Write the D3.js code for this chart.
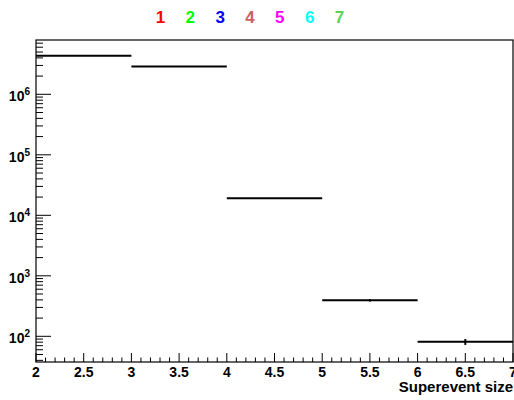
<!DOCTYPE html>
<html>
<head>
<meta charset="utf-8">
<script src="https://cdn.jsdelivr.net/npm/d3@7"></script>
<style>
  body { margin: 0; background: #fff; }
  text { font-family: "Liberation Sans", Arial, sans-serif; font-weight: bold; }
</style>
</head>
<body>
<div id="chart"></div>
<script>
// Datos del histograma
const binLow = [2, 3, 4, 5, 6];
const binHigh = [3, 4, 5, 6, 7];
const counts = [4340000, 2880000, 19200, 394, 81];
const errors = [2083, 1697, 139, 20, 9];

const legendLabels = ["1", "2", "3", "4", "5", "6", "7"];
const legendColors = ["#ff0000", "#00ff00", "#0000ff", "#cf5e61", "#ff00ff", "#00ffff", "#59d454"];

const xTicks = [2, 2.5, 3, 3.5, 4, 4.5, 5, 5.5, 6, 6.5, 7];

const width = 514, height = 400;
const margin = { top: 40, right: 1, bottom: 38, left: 36 };
const x0 = margin.left, x1 = width - margin.right;
const y0 = height - margin.bottom, y1 = margin.top;

const svg = d3.select("#chart")
  .append("svg")
  .attr("width", width)
  .attr("height", height);

const x = d3.scaleLinear().domain([2, 7]).range([x0, x1]);
const y = d3.scaleLog().domain([37.6, 7.9e6]).range([y0, y1]);

// Leyenda de colores
const lx = d3.scalePoint().domain(legendLabels).range([160.5, 339.5]);
svg.append("g")
  .selectAll("text")
  .data(legendLabels)
  .enter().append("text")
  .attr("x", d => lx(d))
  .attr("y", 23)
  .attr("text-anchor", "middle")
  .style("font-size", "17px")
  .attr("fill", (d, i) => legendColors[i])
  .text(d => d);

// Marco
svg.append("rect")
  .attr("x", x0)
  .attr("y", y1)
  .attr("width", x1 - x0)
  .attr("height", y0 - y1)
  .attr("fill", "none")
  .attr("stroke", "#000")
  .attr("stroke-width", 1.2);

// Marcas del eje X
const xMinor = d3.range(20, 71).map(v => v / 10).filter(v => Math.abs(v * 2 - Math.round(v * 2)) > 1e-6);
const xt = svg.append("g").attr("stroke", "#000").attr("stroke-width", 1);
xt.selectAll("line.mi")
  .data(xMinor)
  .enter().append("line")
  .attr("class", "mi")
  .attr("x1", d => x(d)).attr("x2", d => x(d))
  .attr("y1", y0).attr("y2", y0 - 4.5);
xt.selectAll("line.ma")
  .data(xTicks)
  .enter().append("line")
  .attr("class", "ma")
  .attr("x1", d => x(d)).attr("x2", d => x(d))
  .attr("y1", y0).attr("y2", y0 - 9);

svg.append("g")
  .selectAll("text")
  .data(xTicks)
  .enter().append("text")
  .attr("x", d => x(d))
  .attr("y", 376.5)
  .attr("text-anchor", "middle")
  .style("font-size", "14px")
  .text(d => d3.format("")(d));

// Marcas del eje Y (logarítmico)
const allY = y.ticks().filter(v => v >= y.domain()[0] && v <= y.domain()[1]);
const yMajor = allY.filter(v => Math.abs(Math.log10(v) - Math.round(Math.log10(v))) < 1e-9);
const yMinor = allY.filter(v => !yMajor.includes(v));
const yt = svg.append("g").attr("stroke", "#000").attr("stroke-width", 1);
yt.selectAll("line.mi")
  .data(yMinor)
  .enter().append("line")
  .attr("class", "mi")
  .attr("x1", x0).attr("x2", x0 + 7)
  .attr("y1", d => y(d)).attr("y2", d => y(d));
yt.selectAll("line.ma")
  .data(yMajor)
  .enter().append("line")
  .attr("class", "ma")
  .attr("x1", x0).attr("x2", x0 + 15)
  .attr("y1", d => y(d)).attr("y2", d => y(d));

const yLab = svg.append("g")
  .selectAll("text")
  .data(yMajor)
  .enter().append("text")
  .attr("x", 30)
  .attr("y", d => y(d) + 7)
  .attr("text-anchor", "end")
  .style("font-size", "14px");
yLab.append("tspan").text("10");
yLab.append("tspan").attr("dy", -6).style("font-size", "10px")
  .text(d => Math.round(Math.log10(d)));

// Histograma
const bins = svg.append("g").attr("stroke", "#000").attr("stroke-width", 2);
bins.selectAll("line.h")
  .data(counts)
  .enter().append("line")
  .attr("class", "h")
  .attr("x1", (d, i) => x(binLow[i]))
  .attr("x2", (d, i) => x(binHigh[i]))
  .attr("y1", d => y(d))
  .attr("y2", d => y(d));
bins.selectAll("line.e")
  .data(counts)
  .enter().append("line")
  .attr("class", "e")
  .attr("x1", (d, i) => x((binLow[i] + binHigh[i]) / 2))
  .attr("x2", (d, i) => x((binLow[i] + binHigh[i]) / 2))
  .attr("y1", (d, i) => y(d - errors[i]))
  .attr("y2", (d, i) => y(d + errors[i]));

// Título del eje X
svg.append("text")
  .attr("x", width - 1)
  .attr("y", 392)
  .attr("text-anchor", "end")
  .style("font-size", "15px")
  .text("Superevent size");
</script>
</body>
</html>
